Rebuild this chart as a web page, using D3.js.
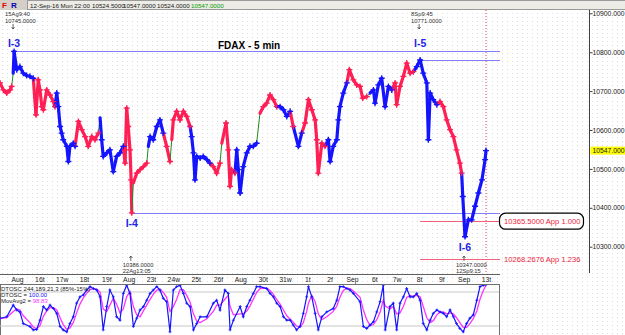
<!DOCTYPE html>
<html>
<head>
<meta charset="utf-8">
<script src="https://cdn.jsdelivr.net/npm/d3@7"></script>
<style>
body { margin: 0; background: #fff; }
svg { display: block; font-family: "Liberation Sans", Arial, sans-serif; }
</style>
</head>
<body>
<div id="chart"></div>
<script>
// trading days counted from Mon 15 Aug 08:00 (one unit = one session)
const priceTime = [
	-0.76,-0.61,-0.46,-0.31,-0.24,-0.17,-0.13,-0.01,0.13,0.28,
	0.43,0.58,0.73,0.85,0.95,1.03,1.11,1.18,1.33,1.48,
	1.63,1.70,1.78,1.85,1.93,2.00,2.07,2.23,2.30,2.37,
	2.52,2.60,2.75,2.90,3.05,3.19,3.35,3.49,3.64,3.72,
	3.79,3.86,4.02,4.16,4.31,4.46,4.61,4.76,4.84,4.91,
	4.98,5.06,5.11,5.14,5.21,5.36,5.51,5.66,5.81,5.88,
	5.96,6.10,6.26,6.40,6.55,6.70,6.85,6.93,7.00,7.15,
	7.30,7.45,7.60,7.75,7.82,7.90,7.97,8.05,8.20,8.34,
	8.50,8.64,8.79,8.94,9.09,9.17,9.36,9.46,9.54,9.61,
	9.76,9.84,9.91,9.99,10.13,10.29,10.43,10.58,10.73,10.88,
	11.03,11.18,11.33,11.48,11.63,11.78,11.93,12.08,12.23,12.37,
	12.60,12.75,12.90,13.05,13.20,13.35,13.42,13.49,13.65,13.79,
	13.94,14.02,14.16,14.32,14.39,14.46,14.61,14.77,14.88,15.06,
	15.21,15.36,15.48,15.66,15.81,15.96,16.03,16.18,16.33,16.48,
	16.63,16.78,16.93,17.00,17.15,17.30,17.45,17.60,17.75,17.90,
	18.05,18.19,18.35,18.42,18.50,18.64,18.80,18.94,19.09,19.24,
	19.39,19.54,19.68,19.83,19.91,19.96,20.06,20.21,20.36,20.51,
	20.66,20.82,20.96,21.00
];
const priceValue = [
	10721,10703,10695,10703,10712,10746,10802,10755,10763,10746,
	10740,10738,10733,10639,10729,10703,10660,10652,10703,10690,
	10673,10660,10695,10660,10609,10592,10575,10558,10519,10558,
	10566,10558,10622,10601,10583,10558,10583,10575,10592,10631,
	10575,10532,10541,10549,10493,10532,10541,10558,10515,10656,
	10609,10549,10472,10387,10464,10489,10498,10506,10515,10558,
	10583,10575,10609,10626,10592,10558,10519,10575,10626,10648,
	10626,10648,10635,10609,10583,10541,10472,10532,10528,10532,
	10524,10515,10506,10489,10515,10566,10618,10549,10455,10498,
	10489,10549,10498,10438,10506,10541,10558,10558,10566,10643,
	10660,10669,10690,10678,10660,10660,10652,10635,10648,10609,
	10558,10592,10618,10678,10652,10626,10575,10489,10566,10558,
	10575,10519,10558,10575,10626,10660,10695,10721,10755,10729,
	10716,10712,10682,10686,10695,10703,10669,10716,10733,10660,
	10712,10703,10721,10665,10712,10738,10772,10746,10750,10763,
	10780,10746,10721,10575,10695,10678,10665,10673,10660,10626,
	10601,10583,10549,10515,10489,10429,10326,10369,10369,10404,
	10438,10472,10524,10547
];
// r = down state, b = up state, g = switch leg
const priceTrend = ("rrrrr g bbbbbbb rrrrrrrrr bbbbbbbbbb rrrrrrr g bbbbbbbb rrrrrr g rrrr g " +
	"bbbbb rr g rrrrrr bbbbbbbb rrr g rrrrr bbbbbbbb g rrrrr bbbb r bb rrrrrrrr " +
	"bbbbbbbb rrrrrr g bbbbbbb rrrrrrr bbbbbbbb rrrrrrrr bbbbbbbbb").replace(/ /g, "").split("");

const oscTime = [
	-0.76,-0.46,-0.17,-0.01,0.13,0.28,0.58,0.73,0.88,1.03,
	1.18,1.33,1.48,1.63,1.78,1.93,2.07,2.23,2.37,2.52,
	2.67,2.82,2.97,3.12,3.27,3.42,3.57,3.72,3.86,4.02,
	4.16,4.31,4.46,4.61,4.76,4.91,5.06,5.21,5.36,5.51,
	5.66,5.81,5.96,6.10,6.26,6.40,6.55,6.70,6.85,7.00,
	7.15,7.30,7.45,7.60,7.75,7.90,8.05,8.20,8.50,8.79,
	8.94,9.09,9.31,9.46,9.54,9.69,9.99,10.13,10.29,10.43,
	10.58,10.73,10.88,11.18,11.33,11.48,11.63,11.78,11.93,12.08,
	12.23,12.37,12.52,12.67,12.82,12.97,13.05,13.20,13.35,13.49,
	13.65,13.87,14.16,14.32,14.46,14.61,14.77,14.91,15.06,15.36,
	15.51,15.66,15.81,15.96,16.11,16.26,16.40,16.49,16.70,16.85,
	17.00,17.15,17.30,17.45,17.60,17.75,17.90,18.05,18.19,18.35,
	18.50,18.64,18.80,18.94,19.09,19.24,19.39,19.54,19.68,19.83,
	19.98,20.13,20.28,20.43,20.59,20.73,20.88,21.00
];
const dtosc = [
	31,34,58,48,44,20,14,7,8,27,
	55,48,58,51,41,14,7,3,20,34,
	62,75,79,89,96,92,89,75,7,55,
	89,75,34,27,82,99,82,14,31,48,
	55,68,82,89,96,89,72,65,3,89,
	96,99,82,62,55,7,20,34,34,62,
	68,48,89,82,7,27,55,34,55,68,
	82,96,96,92,82,75,62,55,34,27,
	27,17,7,14,41,75,96,75,41,7,
	34,44,51,68,96,96,92,89,82,65,
	14,10,17,24,44,65,99,7,55,62,
	7,62,75,92,75,75,82,68,20,7,
	27,41,48,44,41,34,48,34,20,10,
	3,20,31,38,68,96,99,100
];
const movAvg2 = [
	30,32,45,50,48,36,22,13,9,16,
	35,46,53,53,48,32,18,8,11,22,
	42,60,73,82,90,92,91,85,50,45,
	58,72,60,42,50,75,86,55,38,34,
	46,58,70,80,89,91,84,74,45,55,
	70,90,90,78,64,40,25,22,30,45,
	58,58,70,78,55,38,40,40,46,56,
	70,84,92,93,88,80,70,60,48,36,
	29,23,15,12,22,45,62,78,65,40,
	28,34,45,56,74,88,93,92,87,74,
	48,28,16,18,28,44,68,56,50,55,
	40,42,55,74,78,76,78,75,55,32,
	22,26,38,44,44,40,42,40,32,22,
	12,12,20,30,46,70,88,98.83
];

const dayLabels = ["Aug","16t","17w","18t","19f","Aug","23t","24w","25t","26f","Aug",
	"30t","31w","1t","2f","Sep","6t","7w","8t","9f","Sep","13t"];
const priceTicks = [10300, 10400, 10500, 10600, 10700, 10800, 10900];
const lastPrice = 10547;
const quoteTexts = ["12-Sep-16 Mon 22:00", "10524.5000", "10547.0000", "10524.0000", "10547.0000"];

const pivotNames = ["I-3", "I-4", "I-5", "I-6"];
const pivotTimes = [-0.13, 5.14, 18.05, 20.06];
const pivotPrices = [10802, 10387, 10780, 10326];
const pivotStamps = ["15Ag9:40", "22Ag13:05", "8Sp9:45", "12Sp9:15"];
const pivotQuotes = ["10745.0000", "10386.0000", "10771.0000", "10347.0000"];
const pivotIsHigh = [true, false, true, false];

const levelPrices = [10802, 10780, 10387, 10365.5, 10268.2676];
const levelStart = [-0.13, 18.05, 5.14, 18.05, 18.05];
const levelKind = ["pivot", "pivot", "pivot", "app", "app"];
const appLabels = ["", "", "", "10365.5000 App 1.000", "10268.2676 App 1.236"];

drawChart()

function drawChart() {
	const W = 625, H = 335;
	const paneRight = 499, axisX = 589.5;
	const colors = { r: "#ff1f55", b: "#1414ff", g: "#1e8c1e" };

	const svg = d3.select("#chart").append("svg")
		.attr("width", W).attr("height", H);

	// dotted paper background
	const pat = svg.append("defs").append("pattern")
		.attr("id", "dots").attr("width", 5).attr("height", 4)
		.attr("patternUnits", "userSpaceOnUse");
	pat.append("rect").attr("width", 5).attr("height", 4).attr("fill", "#fff");
	pat.append("rect").attr("x", 2).attr("y", 1).attr("width", 1).attr("height", 1).attr("fill", "#dedede");
	svg.append("rect").attr("width", W).attr("height", H).attr("fill", "url(#dots)");

	const x = d3.scaleLinear().domain([0, 21]).range([17, 486]);
	const y = d3.scaleLinear().domain([10300, 10900]).range([246.7, 13.3]);
	const yo = d3.scaleLinear().domain([0, 100]).range([333.3, 284.7]);

	// top quote bar
	svg.append("rect").attr("width", W).attr("height", 10).attr("fill", "#d4d0c8");
	svg.append("text").attr("x", 2).attr("y", 8).attr("font-size", "8px").attr("font-weight", "bold")
		.attr("fill", "#e00000").text("F");
	svg.append("text").attr("x", 11).attr("y", 8).attr("font-size", "8px").attr("font-weight", "bold")
		.attr("fill", "#0000b0").text("R");
	svg.append("rect").attr("x", 27.5).attr("y", 0.5).attr("width", 598).attr("height", 9)
		.attr("fill", "#ecebe6").attr("stroke", "#9a9a9a");
	const quoteX = [30, 92, 123, 157, 191];
	svg.append("g").selectAll("text").data(quoteTexts).join("text")
		.attr("x", (d, i) => quoteX[i]).attr("y", 7.6)
		.attr("font-size", "6.2px")
		.attr("fill", (d, i) => i === quoteTexts.length - 1 ? "#00a000" : "#202020")
		.text(d => d);

	// last bar marker
	svg.append("line")
		.attr("x1", x(21)).attr("x2", x(21)).attr("y1", 10).attr("y2", 274)
		.attr("stroke", "#e0405a").attr("stroke-dasharray", "1,2");

	// horizontal levels
	svg.append("g").attr("class", "levels").selectAll("line").data(levelPrices).join("line")
		.attr("x1", (d, i) => x(levelStart[i])).attr("x2", paneRight + 1)
		.attr("y1", d => Math.round(y(d)) + 0.5).attr("y2", d => Math.round(y(d)) + 0.5)
		.style("stroke", (d, i) => levelKind[i] === "app" ? "#f2607a" : "#8080ff")
		.style("stroke-width", "1.2px");

	// price path
	const idx = d3.range(1, priceTime.length);
	svg.append("g").selectAll("line").data(idx).join("line")
		.attr("x1", i => x(priceTime[i - 1])).attr("y1", i => y(priceValue[i - 1]))
		.attr("x2", i => x(priceTime[i])).attr("y2", i => y(priceValue[i]))
		.attr("stroke", i => colors[priceTrend[i]])
		.attr("stroke-width", i => priceTrend[i] === "g" ? 1 : 3.2)
		.attr("stroke-linecap", "round");
	svg.append("g").selectAll("path")
		.data(d3.range(priceTime.length).filter(i => priceTrend[i] !== "g"))
		.join("path")
		.attr("d", i => `M${x(priceTime[i]) - 3},${y(priceValue[i])}h6M${x(priceTime[i])},${y(priceValue[i]) - 3}v6`)
		.attr("stroke", i => colors[priceTrend[i]])
		.attr("stroke-width", 1.3);

	// pivot annotations
	const piv = svg.append("g").attr("font-size", "5.8px").attr("fill", "#303030");
	pivotNames.forEach((name, i) => {
		const px = x(pivotTimes[i]);
		const high = pivotIsHigh[i];
		const ty = high ? 16 : 266.5;
		piv.append("text").attr("x", px - 9).attr("y", ty)
			.text(high ? pivotStamps[i] : pivotQuotes[i]);
		piv.append("text").attr("x", px - 9).attr("y", ty + 6.5)
			.text(high ? pivotQuotes[i] : pivotStamps[i]);
		const ay = high ? 24 : 255;
		piv.append("path")
			.attr("d", high
				? `M${px - 1},${ay}v5M${px - 2.5},${ay + 3}l1.5,2l1.5,-2`
				: `M${px - 1},${ay + 6}v-5M${px - 2.5},${ay + 3}l1.5,-2l1.5,2`)
			.attr("stroke", "#303030").attr("fill", "none").attr("stroke-width", 0.7);
		svg.append("text")
			.attr("x", px).attr("y", high ? 47 : y(pivotPrices[i]) + 14)
			.attr("text-anchor", "middle")
			.attr("font-size", "10.5px").attr("font-weight", "bold")
			.attr("fill", "#2424e6").text(name);
	});

	svg.append("text").attr("x", 218).attr("y", 49)
		.attr("font-size", "10px").attr("font-weight", "bold").attr("fill", "#000")
		.text("FDAX - 5 min");

	// projection labels
	levelPrices.forEach((p, i) => {
		if (!appLabels[i]) return;
		if (i === 3) {
			svg.append("rect").attr("x", 499.5).attr("y", y(p) - 8).attr("width", 84).attr("height", 16)
				.attr("rx", 6).attr("fill", "#fff").attr("stroke", "#000").attr("stroke-width", 1.2);
		}
		svg.append("text").attr("x", 504).attr("y", y(p) + 2.8)
			.attr("font-size", "7.6px").attr("fill", "#ee1c3c").text(appLabels[i]);
	});

	// right price axis
	svg.append("line").attr("x1", axisX).attr("x2", axisX).attr("y1", 10).attr("y2", 273)
		.attr("stroke", "#404040");
	const yAxis = svg.append("g").attr("transform", `translate(${axisX},0)`)
		.call(d3.axisRight(y).tickValues(priceTicks).tickSize(3).tickPadding(0)
			.tickFormat(d => d.toFixed(3)));
	yAxis.select(".domain").remove();
	yAxis.selectAll(".tick line").attr("stroke", "#404040");
	yAxis.selectAll(".tick text").attr("font-size", "6.8px").attr("fill", "#202020")
		.attr("font-family", "Liberation Sans, Arial, sans-serif");
	svg.append("rect").attr("x", axisX + 1).attr("y", y(lastPrice) - 4)
		.attr("width", W - axisX).attr("height", 8).attr("fill", "#ffff00");
	svg.append("text").attr("x", axisX + 3).attr("y", y(lastPrice) + 2.4)
		.attr("font-size", "6.8px").attr("fill", "#202020").text(lastPrice.toFixed(3));

	// time axis
	svg.append("line").attr("x1", 0).attr("x2", paneRight + 1).attr("y1", 274.5).attr("y2", 274.5)
		.attr("stroke", "#606060");
	const xAxis = svg.append("g").attr("transform", "translate(0,274)")
		.call(d3.axisBottom(x).tickValues(d3.range(dayLabels.length)).tickSize(0).tickPadding(3)
			.tickFormat((d, i) => dayLabels[i]));
	xAxis.select(".domain").remove();
	xAxis.selectAll(".tick text").attr("font-size", "6.8px").attr("fill", "#202020")
		.attr("font-family", "Liberation Sans, Arial, sans-serif");

	// oscillator pane
	svg.append("rect").attr("x", 0.5).attr("y", 284.5).attr("width", paneRight).attr("height", 52)
		.attr("fill", "#fff").attr("stroke", "#707070");
	svg.append("clipPath").attr("id", "oscClip").append("rect")
		.attr("x", 0).attr("y", 285).attr("width", paneRight).attr("height", 50);
	const osc = svg.append("g").attr("clip-path", "url(#oscClip)");
	[85, 15].forEach(v => {
		osc.append("line").attr("x1", 0).attr("x2", paneRight).attr("y1", yo(v)).attr("y2", yo(v))
			.attr("stroke", "#c8c8c8");
	});
	const line = d3.line().x((d, i) => x(oscTime[i])).y(d => yo(d));
	osc.append("path").attr("d", line(movAvg2)).attr("fill", "none")
		.attr("stroke", "#ff33ff").attr("stroke-width", 1.3);
	osc.append("path").attr("d", line(dtosc)).attr("fill", "none")
		.attr("stroke", "#1414ff").attr("stroke-width", 1.2);
	osc.append("g").selectAll("path").data(dtosc).join("path")
		.attr("d", (d, i) => `M${x(oscTime[i]) - 1.5},${yo(d)}h3M${x(oscTime[i])},${yo(d) - 1.5}v3`)
		.attr("stroke", "#1414ff").attr("stroke-width", 0.8);

	const ot = svg.append("g").attr("font-size", "6px").attr("fill", "#202020");
	ot.append("text").attr("x", 1).attr("y", 290.5).text("DTOSC 244,189,21,3 (85%-15%)");
	const t1 = ot.append("text").attr("x", 1).attr("y", 296.5).text("DTOSC = ");
	t1.append("tspan").attr("fill", "#1414ff").text(dtosc[dtosc.length - 1].toFixed(2));
	const t2 = ot.append("text").attr("x", 1).attr("y", 302.5).text("MovAvg2 = ");
	t2.append("tspan").attr("fill", "#ff33ff").text(movAvg2[movAvg2.length - 1].toFixed(2));
}
</script>
</body>
</html>
